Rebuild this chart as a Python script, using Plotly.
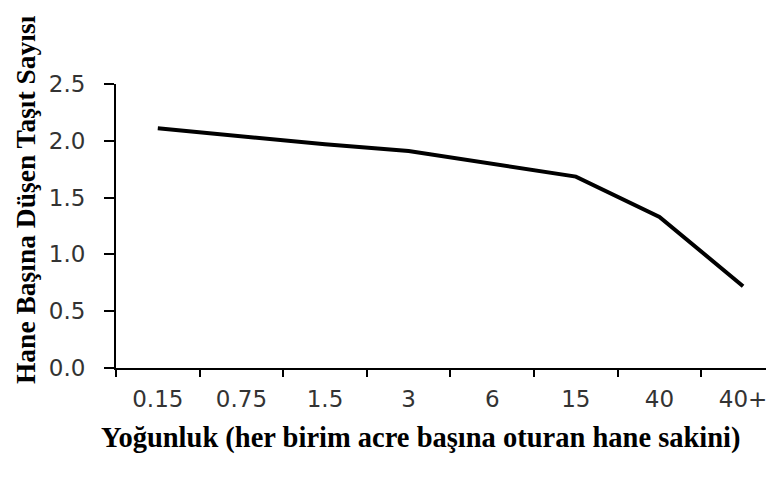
import plotly.graph_objects as go

categories = ["0.15", "0.75", "1.5", "3", "6", "15", "40", "40+"]
vehicles_per_household = [2.11, 2.04, 1.97, 1.91, 1.80, 1.685, 1.33, 0.72]
y_ticks = [0.0, 0.5, 1.0, 1.5, 2.0, 2.5]
y_tick_labels = ["0.0", "0.5", "1.0", "1.5", "2.0", "2.5"]

x_title = "Yoğunluk (her birim acre başına oturan hane sakini)"
y_title = "Hane Başına Düşen Taşıt Sayısı"

fig = go.Figure()
fig.add_trace(go.Scatter(
    x=categories, y=vehicles_per_household, mode="lines",
    line=dict(color="black", width=4), showlegend=False,
))

tick_font = dict(family="DejaVu Sans, sans-serif", size=23, color="#333333")
x_title_font = dict(family="Liberation Serif, Times New Roman, serif", size=28.5, color="black")
y_title_font = dict(family="Liberation Serif, Times New Roman, serif", size=27.5, color="black")

fig.update_layout(
    width=774, height=477,
    margin=dict(l=108, r=8, t=76, b=117),
    paper_bgcolor="white", plot_bgcolor="white",
    xaxis=dict(
        type="category", range=[-0.5, 7.37],
        showline=True, linecolor="black", linewidth=2,
        ticks="outside", tickson="boundaries", ticklen=7, tickwidth=2, tickcolor="black",
        showgrid=False, zeroline=False, tickfont=tick_font, ticklabelstandoff=9,
    ),
    yaxis=dict(
        range=[0, 2.5], tickvals=y_ticks, ticktext=y_tick_labels,
        showline=True, linecolor="black", linewidth=2,
        ticks="outside", ticklen=10, tickwidth=2, tickcolor="black",
        showgrid=False, zeroline=False, tickfont=tick_font, ticklabelstandoff=14,
    ),
    annotations=[
        dict(text="<b>" + x_title + "</b>", xref="paper", yref="paper",
             x=0.4635, y=-0.245, xanchor="center", yanchor="middle",
             showarrow=False, font=x_title_font),
        dict(text="<b>" + y_title + "</b>", xref="paper", yref="paper",
             x=-0.1383, y=0.595, xanchor="center", yanchor="middle", textangle=-90,
             showarrow=False, font=y_title_font),
    ],
)

fig.write_html("out.html")
